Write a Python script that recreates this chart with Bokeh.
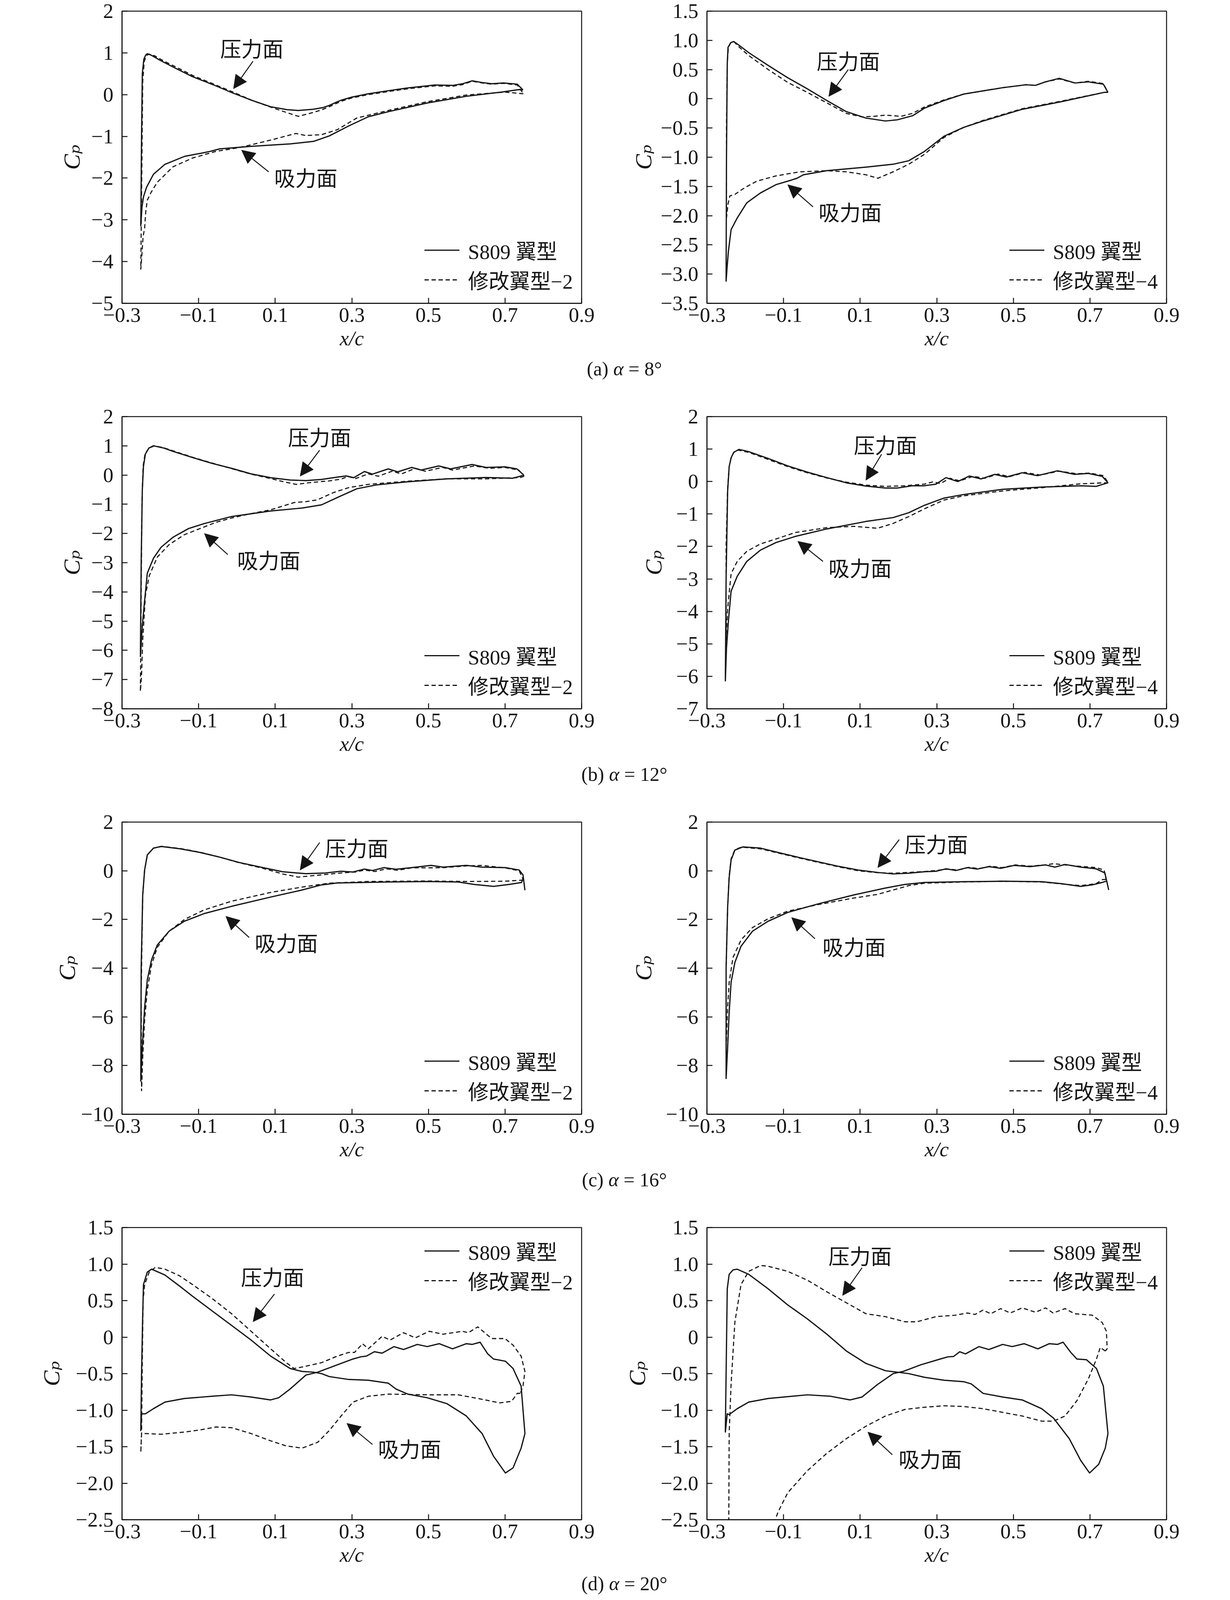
import math
from bokeh.plotting import figure
from bokeh.models import Range1d, FixedTicker, Label, Arrow, NormalHead, Legend, LegendItem, Div
from bokeh.layouts import column, row
from bokeh.embed import file_html
from bokeh.resources import INLINE

# ---------------- tick labels ----------------
X_TICKS = [-0.3, -0.1, 0.1, 0.3, 0.5, 0.7, 0.9]
X_TICK_LABELS = ["−0.3", "−0.1", "0.1", "0.3", "0.5", "0.7", "0.9"]
YT_A_L = [-5, -4, -3, -2, -1, 0, 1, 2]
YL_A_L = ["−5", "−4", "−3", "−2", "−1", "0", "1", "2"]
YT_A_R = [-3.5, -3.0, -2.5, -2.0, -1.5, -1.0, -0.5, 0, 0.5, 1.0, 1.5]
YL_A_R = ["−3.5", "−3.0", "−2.5", "−2.0", "−1.5", "−1.0", "−0.5", "0", "0.5", "1.0", "1.5"]
YT_B_L = [-8, -7, -6, -5, -4, -3, -2, -1, 0, 1, 2]
YL_B_L = ["−8", "−7", "−6", "−5", "−4", "−3", "−2", "−1", "0", "1", "2"]
YT_B_R = [-7, -6, -5, -4, -3, -2, -1, 0, 1, 2]
YL_B_R = ["−7", "−6", "−5", "−4", "−3", "−2", "−1", "0", "1", "2"]
YT_C = [-10, -8, -6, -4, -2, 0, 2]
YL_C = ["−10", "−8", "−6", "−4", "−2", "0", "2"]
YT_D = [-2.5, -2.0, -1.5, -1.0, -0.5, 0, 0.5, 1.0, 1.5]
YL_D = ["−2.5", "−2.0", "−1.5", "−1.0", "−0.5", "0", "0.5", "1.0", "1.5"]

X_LABEL = "x/c"
Y_LABEL = "Cₚ"
BASE_LABEL = "S809 翼型"
MOD2_LABEL = "修改翼型−2"
MOD4_LABEL = "修改翼型−4"
PS_TEXT = "压力面"
SS_TEXT = "吸力面"
CAPTION_LETTERS = ["(a)", "(b)", "(c)", "(d)"]
CAPTION_ALPHA = ["8°", "12°", "16°", "20°"]

# ---------------- data: (a) alpha = 8 ----------------
A_L_S809_PS_X = [-0.249, -0.247, -0.243, -0.238, -0.234, -0.225, -0.2, -0.16, -0.116, -0.06, -0.014, 0.04, 0.088, 0.13, 0.16, 0.2, 0.225, 0.241, 0.26, 0.272, 0.30, 0.343, 0.40, 0.446, 0.517, 0.563, 0.589, 0.614, 0.64, 0.665, 0.696, 0.732, 0.747]
A_L_S809_PS_CP = [-1.0, 0.5, 0.85, 0.95, 0.98, 0.95, 0.82, 0.63, 0.43, 0.23, 0.05, -0.14, -0.29, -0.36, -0.38, -0.35, -0.31, -0.26, -0.18, -0.135, -0.06, 0.02, 0.10, 0.16, 0.23, 0.22, 0.26, 0.33, 0.29, 0.26, 0.28, 0.25, 0.11]
A_L_S809_SS_X = [-0.251, -0.248, -0.244, -0.236, -0.218, -0.188, -0.137, -0.091, -0.07, -0.045, 0.037, 0.139, 0.2, 0.241, 0.292, 0.343, 0.395, 0.497, 0.599, 0.69, 0.736, 0.747]
A_L_S809_SS_CP = [-3.14, -2.7, -2.45, -2.22, -1.91, -1.67, -1.48, -1.40, -1.36, -1.30, -1.24, -1.18, -1.12, -0.99, -0.75, -0.53, -0.41, -0.20, -0.04, 0.06, 0.12, 0.11]
A_L_MOD_PS_X = [-0.248, -0.246, -0.242, -0.236, -0.229, -0.215, -0.19, -0.15, -0.116, -0.06, -0.01, 0.04, 0.088, 0.13, 0.16, 0.19, 0.22, 0.241, 0.272, 0.30, 0.343, 0.40, 0.446, 0.517, 0.563, 0.589, 0.614, 0.64, 0.665, 0.696, 0.732, 0.748]
A_L_MOD_PS_CP = [-1.5, 0.3, 0.8, 0.94, 0.97, 0.93, 0.80, 0.62, 0.46, 0.25, 0.06, -0.14, -0.30, -0.43, -0.52, -0.45, -0.37, -0.29, -0.16, -0.08, 0.0, 0.08, 0.14, 0.21, 0.20, 0.24, 0.32, 0.28, 0.25, 0.27, 0.23, 0.02]
A_L_MOD_SS_X = [-0.251, -0.248, -0.245, -0.241, -0.238, -0.234, -0.224, -0.208, -0.167, -0.116, -0.055, 0.006, 0.088, 0.154, 0.18, 0.221, 0.262, 0.313, 0.354, 0.395, 0.497, 0.599, 0.70, 0.748]
A_L_MOD_SS_CP = [-4.19, -3.82, -3.4, -3.2, -2.8, -2.53, -2.34, -2.10, -1.73, -1.52, -1.36, -1.27, -1.09, -0.93, -0.98, -0.96, -0.84, -0.56, -0.47, -0.38, -0.17, -0.01, 0.06, 0.02]

A_R_S809_PS_X = [-0.249, -0.247, -0.245, -0.238, -0.230, -0.215, -0.191, -0.14, -0.089, -0.038, 0.013, 0.064, 0.115, 0.166, 0.197, 0.237, 0.268, 0.319, 0.37, 0.472, 0.533, 0.558, 0.584, 0.62, 0.661, 0.696, 0.735, 0.747]
A_R_S809_PS_CP = [-1.0, 0.6, 0.88, 0.96, 0.98, 0.91, 0.79, 0.57, 0.36, 0.17, -0.03, -0.22, -0.33, -0.38, -0.36, -0.29, -0.16, -0.03, 0.08, 0.19, 0.24, 0.23, 0.29, 0.35, 0.27, 0.29, 0.25, 0.11]
A_R_S809_SS_X = [-0.25, -0.247, -0.244, -0.237, -0.221, -0.196, -0.16, -0.12, -0.079, -0.065, -0.048, 0.013, 0.115, 0.186, 0.227, 0.268, 0.319, 0.37, 0.421, 0.523, 0.625, 0.737, 0.747]
A_R_S809_SS_CP = [-3.12, -2.85, -2.61, -2.24, -2.04, -1.78, -1.61, -1.47, -1.39, -1.36, -1.30, -1.23, -1.17, -1.12, -1.06, -0.90, -0.64, -0.49, -0.38, -0.18, -0.05, 0.11, 0.11]
A_R_MOD_PS_X = [-0.249, -0.247, -0.244, -0.238, -0.230, -0.215, -0.191, -0.14, -0.089, -0.038, 0.013, 0.064, 0.105, 0.135, 0.166, 0.207, 0.237, 0.268, 0.319, 0.37, 0.472, 0.533, 0.558, 0.584, 0.62, 0.661, 0.696, 0.735, 0.747]
A_R_MOD_PS_CP = [-0.5, 0.6, 0.88, 0.96, 0.98, 0.88, 0.74, 0.50, 0.28, 0.11, -0.07, -0.25, -0.31, -0.30, -0.28, -0.30, -0.25, -0.14, -0.02, 0.08, 0.19, 0.24, 0.23, 0.29, 0.34, 0.27, 0.30, 0.26, 0.11]
A_R_MOD_SS_X = [-0.249, -0.245, -0.24, -0.228, -0.201, -0.17, -0.12, -0.058, 0.013, 0.064, 0.115, 0.146, 0.186, 0.227, 0.268, 0.319, 0.37, 0.421, 0.523, 0.625, 0.737, 0.747]
A_R_MOD_SS_CP = [-2.04, -1.8, -1.66, -1.64, -1.52, -1.41, -1.32, -1.25, -1.23, -1.25, -1.30, -1.36, -1.25, -1.12, -0.95, -0.66, -0.49, -0.37, -0.17, -0.04, 0.11, 0.11]

# ---------------- data: (b) alpha = 12 ----------------
B_L_S809_PS_X = [-0.25, -0.247, -0.244, -0.239, -0.23, -0.218, -0.19, -0.167, -0.116, -0.065, -0.014, 0.037, 0.088, 0.139, 0.18, 0.221, 0.252, 0.285, 0.305, 0.333, 0.354, 0.395, 0.42, 0.456, 0.481, 0.527, 0.558, 0.614, 0.65, 0.70, 0.731, 0.749]
B_L_S809_PS_CP = [-3.0, -0.5, 0.3, 0.72, 0.92, 1.0, 0.92, 0.81, 0.60, 0.40, 0.23, 0.04, -0.09, -0.17, -0.19, -0.15, -0.09, -0.03, -0.09, 0.12, 0.03, 0.21, 0.11, 0.26, 0.17, 0.31, 0.21, 0.36, 0.26, 0.28, 0.21, 0.0]
B_L_S809_SS_X = [-0.252, -0.247, -0.241, -0.234, -0.218, -0.198, -0.167, -0.126, -0.085, -0.014, 0.088, 0.17, 0.221, 0.262, 0.313, 0.364, 0.446, 0.548, 0.65, 0.72, 0.74, 0.749]
B_L_S809_SS_CP = [-6.21, -5.15, -4.3, -3.36, -2.85, -2.47, -2.13, -1.83, -1.66, -1.42, -1.23, -1.13, -1.02, -0.77, -0.47, -0.34, -0.23, -0.13, -0.085, -0.11, -0.04, 0.0]
B_L_MOD_PS_X = [-0.25, -0.248, -0.245, -0.24, -0.23, -0.215, -0.19, -0.167, -0.116, -0.065, -0.014, 0.037, 0.088, 0.125, 0.155, 0.19, 0.241, 0.272, 0.29, 0.31, 0.343, 0.369, 0.405, 0.43, 0.466, 0.492, 0.537, 0.563, 0.62, 0.66, 0.70, 0.736, 0.75]
B_L_MOD_PS_CP = [-4.0, -1.0, 0.3, 0.72, 0.92, 1.0, 0.93, 0.83, 0.61, 0.41, 0.22, 0.03, -0.12, -0.24, -0.32, -0.26, -0.20, -0.14, -0.05, -0.12, 0.04, -0.04, 0.13, 0.04, 0.23, 0.13, 0.26, 0.17, 0.31, 0.23, 0.26, 0.17, -0.04]
B_L_MOD_SS_X = [-0.252, -0.249, -0.246, -0.239, -0.229, -0.208, -0.177, -0.137, -0.096, -0.055, -0.014, 0.037, 0.088, 0.15, 0.18, 0.21, 0.252, 0.292, 0.343, 0.446, 0.548, 0.65, 0.74, 0.75]
B_L_MOD_SS_CP = [-7.4, -6.85, -5.66, -4.13, -3.45, -2.81, -2.38, -2.04, -1.83, -1.62, -1.47, -1.32, -1.19, -0.94, -0.91, -0.85, -0.60, -0.43, -0.32, -0.21, -0.13, -0.13, -0.085, -0.04]

B_R_S809_PS_X = [-0.25, -0.246, -0.242, -0.237, -0.23, -0.216, -0.191, -0.14, -0.089, -0.038, 0.013, 0.064, 0.115, 0.166, 0.197, 0.237, 0.268, 0.298, 0.324, 0.355, 0.385, 0.416, 0.451, 0.482, 0.523, 0.563, 0.615, 0.66, 0.696, 0.732, 0.747]
B_R_S809_PS_CP = [-3.0, -0.3, 0.46, 0.73, 0.90, 0.99, 0.92, 0.71, 0.48, 0.29, 0.12, -0.04, -0.14, -0.20, -0.20, -0.13, -0.13, -0.08, 0.12, 0.0, 0.17, 0.08, 0.22, 0.14, 0.27, 0.18, 0.33, 0.22, 0.25, 0.16, -0.04]
B_R_S809_SS_X = [-0.252, -0.249, -0.244, -0.237, -0.221, -0.196, -0.16, -0.12, -0.069, 0.013, 0.115, 0.186, 0.227, 0.268, 0.319, 0.37, 0.472, 0.574, 0.676, 0.716, 0.738, 0.747]
B_R_S809_SS_CP = [-6.14, -5.14, -4.3, -3.38, -2.92, -2.46, -2.11, -1.88, -1.69, -1.46, -1.23, -1.11, -0.96, -0.73, -0.51, -0.40, -0.24, -0.17, -0.13, -0.15, -0.07, -0.04]
B_R_MOD_PS_X = [-0.25, -0.246, -0.242, -0.237, -0.23, -0.22, -0.191, -0.14, -0.089, -0.038, 0.013, 0.064, 0.115, 0.166, 0.217, 0.268, 0.29, 0.31, 0.334, 0.36, 0.395, 0.425, 0.46, 0.49, 0.53, 0.57, 0.62, 0.665, 0.70, 0.735, 0.748]
B_R_MOD_PS_CP = [-2.0, -0.2, 0.46, 0.72, 0.90, 0.97, 0.90, 0.68, 0.46, 0.27, 0.11, -0.02, -0.11, -0.15, -0.13, -0.08, -0.01, -0.06, 0.10, 0.02, 0.16, 0.10, 0.23, 0.15, 0.28, 0.20, 0.32, 0.24, 0.26, 0.18, -0.04]
B_R_MOD_SS_X = [-0.25, -0.249, -0.246, -0.237, -0.221, -0.196, -0.16, -0.12, -0.069, 0.013, 0.084, 0.145, 0.186, 0.227, 0.268, 0.319, 0.37, 0.472, 0.574, 0.676, 0.735, 0.748]
B_R_MOD_SS_CP = [-4.9, -4.6, -3.92, -2.84, -2.46, -2.15, -1.92, -1.77, -1.57, -1.42, -1.38, -1.44, -1.29, -1.08, -0.84, -0.57, -0.44, -0.29, -0.19, -0.07, -0.04, -0.04]

# ---------------- data: (c) alpha = 16 ----------------
C_L_S809_PS_X = [-0.25, -0.246, -0.241, -0.234, -0.218, -0.198, -0.147, -0.096, -0.045, 0.006, 0.068, 0.119, 0.18, 0.231, 0.272, 0.303, 0.333, 0.354, 0.384, 0.415, 0.456, 0.507, 0.538, 0.599, 0.64, 0.701, 0.737, 0.747, 0.752]
C_L_S809_PS_CP = [-4.0, -1.0, 0.03, 0.65, 0.93, 1.0, 0.90, 0.75, 0.56, 0.34, 0.13, -0.04, -0.12, -0.09, -0.02, -0.05, 0.07, 0.01, 0.13, 0.06, 0.13, 0.22, 0.15, 0.22, 0.15, 0.13, 0.03, -0.17, -0.80]
C_L_S809_SS_X = [-0.251, -0.247, -0.241, -0.234, -0.223, -0.208, -0.177, -0.137, -0.086, -0.014, 0.088, 0.17, 0.221, 0.262, 0.395, 0.497, 0.578, 0.619, 0.67, 0.711, 0.743, 0.748]
C_L_S809_SS_CP = [-8.64, -7.25, -5.61, -4.48, -3.66, -3.05, -2.48, -2.07, -1.76, -1.46, -1.08, -0.79, -0.58, -0.50, -0.46, -0.44, -0.46, -0.56, -0.64, -0.56, -0.48, -0.30]
C_L_MOD_PS_X = [-0.25, -0.246, -0.241, -0.234, -0.218, -0.195, -0.147, -0.096, -0.045, 0.006, 0.068, 0.119, 0.16, 0.22, 0.272, 0.31, 0.333, 0.36, 0.39, 0.42, 0.456, 0.50, 0.54, 0.60, 0.64, 0.70, 0.737, 0.748]
C_L_MOD_PS_CP = [-5.0, -1.0, 0.03, 0.65, 0.93, 1.0, 0.91, 0.76, 0.56, 0.33, 0.10, -0.13, -0.26, -0.17, -0.09, -0.05, 0.03, -0.03, 0.08, 0.02, 0.12, 0.12, 0.13, 0.20, 0.22, 0.12, 0.0, -0.38]
C_L_MOD_SS_X = [-0.249, -0.246, -0.241, -0.234, -0.223, -0.208, -0.177, -0.137, -0.086, -0.014, 0.088, 0.17, 0.241, 0.343, 0.497, 0.599, 0.70, 0.748]
C_L_MOD_SS_CP = [-9.05, -7.66, -6.12, -4.89, -3.87, -3.15, -2.48, -2.00, -1.61, -1.25, -0.89, -0.67, -0.51, -0.44, -0.42, -0.44, -0.43, -0.38]

C_R_S809_PS_X = [-0.25, -0.246, -0.242, -0.237, -0.227, -0.206, -0.16, -0.109, -0.058, -0.007, 0.044, 0.095, 0.146, 0.186, 0.227, 0.268, 0.298, 0.324, 0.35, 0.38, 0.406, 0.436, 0.467, 0.502, 0.543, 0.584, 0.609, 0.635, 0.676, 0.716, 0.739, 0.749]
C_R_S809_PS_CP = [-4.0, -1.5, -0.28, 0.44, 0.85, 0.98, 0.93, 0.73, 0.54, 0.36, 0.18, 0.03, -0.07, -0.13, -0.10, -0.04, -0.02, 0.08, 0.01, 0.13, 0.07, 0.17, 0.10, 0.22, 0.17, 0.24, 0.15, 0.26, 0.15, 0.08, -0.09, -0.79]
C_R_S809_SS_X = [-0.25, -0.246, -0.242, -0.237, -0.227, -0.211, -0.181, -0.14, -0.089, -0.007, 0.084, 0.166, 0.217, 0.268, 0.37, 0.472, 0.574, 0.625, 0.676, 0.706, 0.732, 0.742]
C_R_S809_SS_CP = [-8.53, -7.25, -5.82, -4.58, -3.76, -3.10, -2.48, -2.07, -1.71, -1.35, -0.99, -0.71, -0.56, -0.48, -0.45, -0.43, -0.45, -0.53, -0.64, -0.58, -0.48, -0.43]
C_R_MOD_PS_X = [-0.25, -0.246, -0.242, -0.237, -0.227, -0.21, -0.16, -0.109, -0.058, -0.007, 0.044, 0.095, 0.146, 0.186, 0.227, 0.268, 0.298, 0.33, 0.355, 0.385, 0.41, 0.44, 0.47, 0.505, 0.545, 0.584, 0.605, 0.635, 0.66, 0.716, 0.737, 0.742]
C_R_MOD_PS_CP = [-4.0, -1.5, -0.2, 0.5, 0.87, 0.97, 0.90, 0.71, 0.52, 0.34, 0.16, 0.0, -0.08, -0.10, -0.07, -0.03, 0.01, 0.07, 0.03, 0.14, 0.09, 0.19, 0.13, 0.24, 0.19, 0.24, 0.29, 0.24, 0.20, 0.13, 0.03, -0.36]
C_R_MOD_SS_X = [-0.25, -0.246, -0.242, -0.232, -0.211, -0.181, -0.14, -0.089, -0.007, 0.084, 0.145, 0.186, 0.227, 0.268, 0.37, 0.472, 0.574, 0.625, 0.676, 0.716, 0.733, 0.742]
C_R_MOD_SS_CP = [-7.25, -5.6, -4.58, -3.56, -2.84, -2.33, -1.97, -1.66, -1.38, -1.12, -0.97, -0.79, -0.61, -0.51, -0.46, -0.43, -0.46, -0.54, -0.61, -0.53, -0.36, -0.36]

# ---------------- data: (d) alpha = 20 ----------------
D_L_S809_PS_X = [-0.251, -0.249, -0.246, -0.244, -0.234, -0.223, -0.188, -0.15, -0.116, -0.065, -0.014, 0.037, 0.088, 0.139, 0.17, 0.20, 0.221, 0.241, 0.292, 0.343, 0.395, 0.415, 0.446, 0.497, 0.548, 0.599, 0.64, 0.67, 0.701, 0.721, 0.742, 0.752]
D_L_S809_PS_CP = [-1.28, -0.5, 0.3, 0.72, 0.89, 0.93, 0.85, 0.70, 0.56, 0.36, 0.16, -0.04, -0.26, -0.43, -0.47, -0.48, -0.50, -0.54, -0.58, -0.59, -0.63, -0.71, -0.78, -0.83, -0.91, -1.08, -1.32, -1.63, -1.86, -1.79, -1.52, -1.32]
D_L_S809_SS_X = [-0.249, -0.239, -0.218, -0.188, -0.137, -0.065, -0.014, 0.037, 0.088, 0.109, 0.139, 0.18, 0.211, 0.262, 0.303, 0.323, 0.338, 0.359, 0.379, 0.41, 0.435, 0.471, 0.497, 0.528, 0.563, 0.599, 0.614, 0.635, 0.655, 0.67, 0.701, 0.721, 0.742, 0.752]
D_L_S809_SS_CP = [-1.05, -1.05, -0.98, -0.89, -0.84, -0.81, -0.79, -0.82, -0.86, -0.83, -0.71, -0.52, -0.48, -0.38, -0.30, -0.27, -0.26, -0.20, -0.22, -0.13, -0.17, -0.10, -0.13, -0.09, -0.16, -0.09, -0.10, -0.07, -0.23, -0.30, -0.33, -0.43, -0.67, -1.32]
D_L_MOD_PS_X = [-0.251, -0.249, -0.247, -0.245, -0.241, -0.229, -0.213, -0.188, -0.15, -0.116, -0.065, -0.014, 0.037, 0.088, 0.129, 0.149, 0.17, 0.221, 0.262, 0.292, 0.307, 0.328, 0.343, 0.379, 0.40, 0.435, 0.466, 0.502, 0.538, 0.589, 0.604, 0.629, 0.665, 0.70, 0.721, 0.742, 0.752, 0.747, 0.74]
D_L_MOD_PS_CP = [-1.58, -1.32, -0.3, 0.5, 0.72, 0.89, 0.955, 0.93, 0.84, 0.72, 0.53, 0.32, 0.08, -0.16, -0.35, -0.43, -0.41, -0.35, -0.26, -0.21, -0.21, -0.09, -0.16, 0.01, -0.04, 0.06, -0.01, 0.08, 0.04, 0.08, 0.06, 0.14, -0.02, -0.02, -0.11, -0.26, -0.47, -0.67, -0.77]
D_L_MOD_SS_X = [-0.249, -0.239, -0.198, -0.137, -0.096, -0.055, -0.014, 0.037, 0.088, 0.129, 0.17, 0.211, 0.241, 0.272, 0.303, 0.343, 0.395, 0.497, 0.578, 0.629, 0.686, 0.717, 0.732, 0.74]
D_L_MOD_SS_CP = [-1.32, -1.32, -1.33, -1.30, -1.27, -1.23, -1.24, -1.32, -1.42, -1.49, -1.52, -1.44, -1.28, -1.08, -0.89, -0.81, -0.78, -0.79, -0.79, -0.84, -0.90, -0.88, -0.77, -0.77]

D_R_S809_PS_X = [-0.252, -0.25, -0.247, -0.242, -0.232, -0.221, -0.191, -0.14, -0.089, -0.038, 0.013, 0.064, 0.115, 0.166, 0.197, 0.227, 0.268, 0.319, 0.37, 0.39, 0.421, 0.472, 0.523, 0.574, 0.605, 0.646, 0.676, 0.699, 0.723, 0.74, 0.747]
D_R_S809_PS_CP = [-1.30, -0.5, 0.66, 0.86, 0.92, 0.93, 0.86, 0.66, 0.44, 0.25, 0.04, -0.19, -0.36, -0.46, -0.48, -0.50, -0.55, -0.59, -0.61, -0.64, -0.77, -0.82, -0.86, -0.98, -1.11, -1.39, -1.69, -1.86, -1.74, -1.52, -1.32]
D_R_S809_SS_X = [-0.247, -0.242, -0.221, -0.191, -0.14, -0.038, 0.023, 0.074, 0.105, 0.145, 0.186, 0.212, 0.258, 0.309, 0.329, 0.344, 0.36, 0.375, 0.41, 0.436, 0.472, 0.497, 0.528, 0.564, 0.594, 0.615, 0.63, 0.65, 0.666, 0.691, 0.717, 0.735, 0.747]
D_R_S809_SS_CP = [-1.05, -1.06, -0.98, -0.89, -0.84, -0.79, -0.81, -0.86, -0.82, -0.65, -0.50, -0.47, -0.38, -0.30, -0.27, -0.265, -0.20, -0.23, -0.13, -0.17, -0.10, -0.13, -0.09, -0.16, -0.09, -0.10, -0.07, -0.21, -0.30, -0.31, -0.43, -0.67, -1.32]
D_R_MOD_PS_X = [-0.244, -0.243, -0.242, -0.237, -0.227, -0.211, -0.191, -0.16, -0.14, -0.089, -0.038, 0.013, 0.064, 0.115, 0.166, 0.217, 0.248, 0.298, 0.349, 0.38, 0.40, 0.421, 0.441, 0.467, 0.492, 0.523, 0.558, 0.584, 0.604, 0.635, 0.66, 0.706, 0.732, 0.743, 0.745, 0.74]
D_R_MOD_PS_CP = [-5.5, -2.5, -1.32, -0.64, 0.21, 0.72, 0.90, 0.98, 0.97, 0.90, 0.78, 0.62, 0.47, 0.32, 0.28, 0.21, 0.21, 0.28, 0.30, 0.33, 0.31, 0.37, 0.32, 0.39, 0.33, 0.40, 0.34, 0.40, 0.33, 0.39, 0.32, 0.30, 0.20, 0.08, -0.16, -0.19]
D_R_MOD_SS_X = [-0.244, -0.235, -0.20, -0.15, -0.114, -0.089, -0.038, 0.013, 0.064, 0.115, 0.166, 0.217, 0.268, 0.319, 0.37, 0.421, 0.472, 0.523, 0.574, 0.605, 0.635, 0.666, 0.696, 0.717, 0.727, 0.74]
D_R_MOD_SS_CP = [-5.5, -4.8, -3.8, -2.9, -2.39, -2.13, -1.83, -1.59, -1.39, -1.22, -1.08, -0.99, -0.96, -0.94, -0.95, -0.98, -1.03, -1.08, -1.15, -1.15, -1.08, -0.87, -0.57, -0.30, -0.14, -0.19]

# ---------------- layout / styling (not data) ----------------
FONT = "Liberation Serif, DejaVu Serif, Noto Sans CJK SC"
CJK = "Noto Sans CJK SC"
INK = "#151515"
FRAME_W, FRAME_H = 1177, 748
FS = "53px"

PANELS = [
    dict(ps=A_L_S809_PS_X, pc=A_L_S809_PS_CP, sx=A_L_S809_SS_X, sc=A_L_S809_SS_CP,
         mpx=A_L_MOD_PS_X, mpc=A_L_MOD_PS_CP, msx=A_L_MOD_SS_X, msc=A_L_MOD_SS_CP,
         yr=(-5, 2), yt=YT_A_L, yl=YL_A_L, mod=MOD2_LABEL, leg="bottom_right", ylab_so=14,
         pst=(0.039, 1.12), psa=(0.042, 0.80, -0.009, 0.14), sst=(0.18, -1.98), ssa=(0.083, -1.85, 0.012, -1.33)),
    dict(ps=A_R_S809_PS_X, pc=A_R_S809_PS_CP, sx=A_R_S809_SS_X, sc=A_R_S809_SS_CP,
         mpx=A_R_MOD_PS_X, mpc=A_R_MOD_PS_CP, msx=A_R_MOD_SS_X, msc=A_R_MOD_SS_CP,
         yr=(-3.5, 1.5), yt=YT_A_R, yl=YL_A_R, mod=MOD4_LABEL, leg="bottom_right", ylab_so=8,
         pst=(0.069, 0.66), psa=(0.069, 0.50, 0.018, 0.04), sst=(0.074, -1.93), ssa=(-0.023, -1.85, -0.089, -1.47)),
    dict(ps=B_L_S809_PS_X, pc=B_L_S809_PS_CP, sx=B_L_S809_SS_X, sc=B_L_S809_SS_CP,
         mpx=B_L_MOD_PS_X, mpc=B_L_MOD_PS_CP, msx=B_L_MOD_SS_X, msc=B_L_MOD_SS_CP,
         yr=(-8, 2), yt=YT_B_L, yl=YL_B_L, mod=MOD2_LABEL, leg="bottom_right", ylab_so=14,
         pst=(0.216, 1.32), psa=(0.216, 0.85, 0.165, -0.04), sst=(0.083, -2.89), ssa=(-0.024, -2.72, -0.085, -2.0)),
    dict(ps=B_R_S809_PS_X, pc=B_R_S809_PS_CP, sx=B_R_S809_SS_X, sc=B_R_S809_SS_CP,
         mpx=B_R_MOD_PS_X, mpc=B_R_MOD_PS_CP, msx=B_R_MOD_SS_X, msc=B_R_MOD_SS_CP,
         yr=(-7, 2), yt=YT_B_R, yl=YL_B_R, mod=MOD4_LABEL, leg="bottom_right", ylab_so=22,
         pst=(0.166, 1.15), psa=(0.156, 0.84, 0.115, 0.04), sst=(0.10, -2.65), ssa=(0.003, -2.46, -0.063, -1.84)),
    dict(ps=C_L_S809_PS_X, pc=C_L_S809_PS_CP, sx=C_L_S809_SS_X, sc=C_L_S809_SS_CP,
         mpx=C_L_MOD_PS_X, mpc=C_L_MOD_PS_CP, msx=C_L_MOD_SS_X, msc=C_L_MOD_SS_CP,
         yr=(-10, 2), yt=YT_C, yl=YL_C, mod=MOD2_LABEL, leg="bottom_right", ylab_so=0,
         pst=(0.313, 0.95), psa=(0.216, 1.16, 0.165, 0.03), sst=(0.129, -2.94), ssa=(0.032, -2.74, -0.029, -1.87)),
    dict(ps=C_R_S809_PS_X, pc=C_R_S809_PS_CP, sx=C_R_S809_SS_X, sc=C_R_S809_SS_CP,
         mpx=C_R_MOD_PS_X, mpc=C_R_MOD_PS_CP, msx=C_R_MOD_SS_X, msc=C_R_MOD_SS_CP,
         yr=(-10, 2), yt=YT_C, yl=YL_C, mod=MOD4_LABEL, leg="bottom_right", ylab_so=22,
         pst=(0.299, 1.11), psa=(0.202, 1.28, 0.146, 0.13), sst=(0.084, -3.1), ssa=(-0.018, -2.79, -0.079, -1.92)),
    dict(ps=D_L_S809_PS_X, pc=D_L_S809_PS_CP, sx=D_L_S809_SS_X, sc=D_L_S809_SS_CP,
         mpx=D_L_MOD_PS_X, mpc=D_L_MOD_PS_CP, msx=D_L_MOD_SS_X, msc=D_L_MOD_SS_CP,
         yr=(-2.5, 1.5), yt=YT_D, yl=YL_D, mod=MOD2_LABEL, leg="top_right", ylab_so=26,
         pst=(0.093, 0.83), psa=(0.098, 0.59, 0.042, 0.21), sst=(0.451, -1.52), ssa=(0.354, -1.47, 0.287, -1.18)),
    dict(ps=D_R_S809_PS_X, pc=D_R_S809_PS_CP, sx=D_R_S809_SS_X, sc=D_R_S809_SS_CP,
         mpx=D_R_MOD_PS_X, mpc=D_R_MOD_PS_CP, msx=D_R_MOD_SS_X, msc=D_R_MOD_SS_CP,
         yr=(-2.5, 1.5), yt=YT_D, yl=YL_D, mod=MOD4_LABEL, leg="top_right", ylab_so=24,
         pst=(0.10, 1.12), psa=(0.105, 0.95, 0.054, 0.57), sst=(0.283, -1.66), ssa=(0.184, -1.61, 0.12, -1.30)),
]


def make_panel(cfg, left):
    p = figure(frame_width=FRAME_W, frame_height=FRAME_H,
               min_border_left=312 if left else 243, min_border_right=78 if left else 147,
               min_border_top=28, min_border_bottom=142,
               x_range=Range1d(-0.3, 0.9), y_range=Range1d(*cfg["yr"]),
               output_backend="svg", toolbar_location=None,
               background_fill_color="white", border_fill_color="white")
    p.xgrid.visible = False
    p.ygrid.visible = False
    p.outline_line_color = INK
    p.outline_line_width = 2.5
    p.outline_line_alpha = 1.0

    p.xaxis.ticker = FixedTicker(ticks=X_TICKS)
    p.xaxis.major_label_overrides = {t: s for t, s in zip(X_TICKS, X_TICK_LABELS)}
    p.yaxis.ticker = FixedTicker(ticks=cfg["yt"])
    p.yaxis.major_label_overrides = {t: s for t, s in zip(cfg["yt"], cfg["yl"])}
    for ax in (p.xaxis[0], p.yaxis[0]):
        ax.major_tick_in = 14
        ax.major_tick_out = 0
        ax.minor_tick_line_color = None
        ax.axis_line_width = 2.5
        ax.axis_line_color = INK
        ax.major_tick_line_width = 2.5
        ax.major_tick_line_color = INK
        ax.major_label_text_font = FONT
        ax.major_label_text_font_size = FS
        ax.major_label_text_color = INK
        ax.axis_label_text_font = FONT
        ax.axis_label_text_font_style = "italic"
        ax.axis_label_text_color = INK
    p.xaxis.major_label_standoff = 12
    p.yaxis.major_label_standoff = 22
    p.xaxis.axis_label = X_LABEL
    p.xaxis.axis_label_text_font_size = FS
    p.xaxis.axis_label_standoff = 10
    p.yaxis.axis_label = Y_LABEL
    p.yaxis.axis_label_text_font_size = "60px"
    p.yaxis.axis_label_standoff = cfg["ylab_so"]

    # closed loop = suction side (TE -> LE) + pressure side (LE -> TE)
    bx = cfg["sx"][::-1] + cfg["ps"]
    by = cfg["sc"][::-1] + cfg["pc"]
    mx = cfg["msx"][::-1] + cfg["mpx"]
    my = cfg["msc"][::-1] + cfg["mpc"]
    r1 = p.line(bx, by, line_color=INK, line_width=3.2, line_join="round")
    r2 = p.line(mx, my, line_color=INK, line_width=2.8, line_dash="11 7")

    leg = Legend(items=[LegendItem(label=BASE_LABEL, renderers=[r1]),
                        LegendItem(label=cfg["mod"], renderers=[r2])],
                 location=cfg["leg"])
    leg.label_text_font = FONT
    leg.label_text_font_size = FS
    leg.label_text_color = INK
    leg.glyph_width = 90
    leg.glyph_height = 58
    leg.label_height = 58
    leg.label_standoff = 22
    leg.spacing = 0
    leg.padding = 0
    leg.margin = 22
    leg.border_line_color = None
    leg.background_fill_alpha = 0
    p.add_layout(leg)

    for (tx, ty), (x0, y0, x1, y1), txt in ((cfg["pst"], cfg["psa"], PS_TEXT), (cfg["sst"], cfg["ssa"], SS_TEXT)):
        p.add_layout(Label(x=tx, y=ty, text=txt, text_font=CJK, text_font_size="54px",
                           text_align="center", text_baseline="middle", text_color=INK))
        p.add_layout(Arrow(x_start=x0, y_start=y0, x_end=x1, y_end=y1, line_width=2.5,
                           line_color=INK,
                           end=NormalHead(size=34, fill_color=INK, line_color=INK, line_width=1)))
    return p


def caption(i, h):
    html = ('<div style="width:3134px;box-sizing:border-box;padding-left:64px;text-align:center;'
            'font-family:\'Liberation Serif\',serif;font-size:50px;line-height:%dpx;color:#151515;">'
            '%s <i>α</i> = %s</div>') % (min(h, 52), CAPTION_LETTERS[i], CAPTION_ALPHA[i])
    return Div(text=html, width=3134, height=h, margin=0)


items = []
for i in range(4):
    pl = make_panel(PANELS[2 * i], True)
    pr = make_panel(PANELS[2 * i + 1], False)
    items.append(row(pl, pr, spacing=0))
    items.append(caption(i, 120 if i < 3 else 44))

layout = column(*items, spacing=0)
open("out.html", "w").write(file_html(layout, INLINE))
